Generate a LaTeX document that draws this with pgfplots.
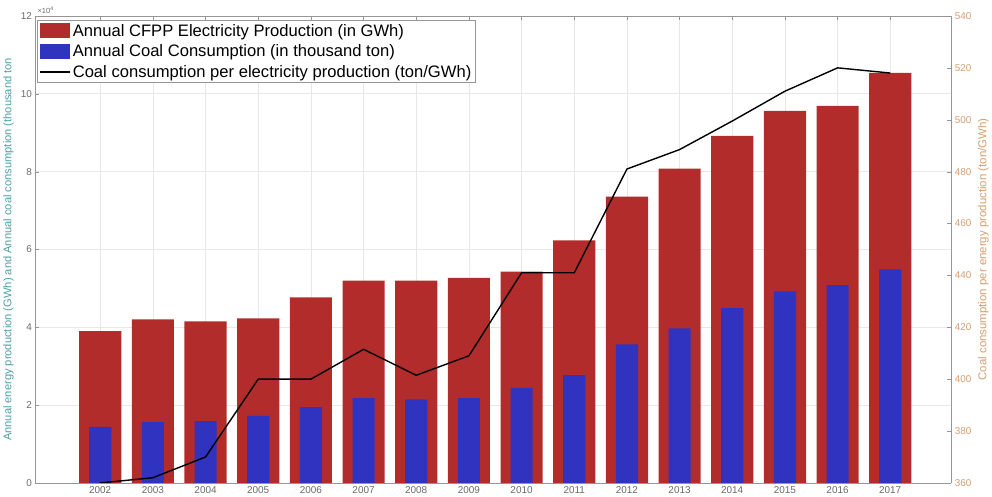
\documentclass[border=0pt]{standalone}
\usepackage{fontspec}
\setmainfont{Liberation Sans}
\usepackage{pgfplots}
\usepackage{pgfplotstable}
\pgfplotsset{compat=1.18}
\usetikzlibrary{calc}

\definecolor{barred}{RGB}{178,44,44}
\definecolor{barblue}{RGB}{47,51,191}
\definecolor{leftlab}{RGB}{74,160,165}
\definecolor{rightlab}{RGB}{214,158,112}
\definecolor{tickgray}{RGB}{105,105,105}
\definecolor{gridgray}{RGB}{232,232,232}
\definecolor{axgray}{RGB}{150,150,150}

% year, electricity (x10^4 GWh), coal (x10^4 thousand ton), ton/GWh
\pgfplotstableread{
year  elec   coal  ratio
2002  3.90   1.44  360
2003  4.20   1.56  362
2004  4.15   1.59  370
2005  4.23   1.72  400
2006  4.77   1.95  400
2007  5.20   2.18  411.5
2008  5.20   2.15  401.5
2009  5.27   2.18  409
2010  5.43   2.44  441
2011  6.23   2.77  441
2012  7.36   3.56  481
2013  8.08   3.97  488.5
2014  8.92   4.49  499.5
2015  9.56   4.92  511
2016  9.69   5.08  520
2017  10.54  5.49  518
}\datatable

\begin{document}
\begin{tikzpicture}
\begin{axis}[
  name=left,
  scale only axis, width=918bp, height=468bp,
  xmin=2000.77, xmax=2018.16, ymin=0, ymax=12,
  xtick={2002,...,2017}, ytick={0,2,...,12},
  axis x line=box, axis y line*=left,
  tick align=inside, major tick length=4bp,
  grid=major, grid style={gridgray, line width=0.6bp},
  axis line style={axgray, line width=0.8bp},
  tick style={axgray},
  /pgf/number format/assume math mode=true,
  x tick label style={/pgf/number format/1000 sep={}, font=\fontsize{10}{10}\selectfont, text=tickgray},
  y tick label style={font=\fontsize{10}{10}\selectfont, text=tickgray},
  every axis y label/.style={at={(axis description cs:-0.0294,0.5)}, anchor=center, rotate=90},
  ylabel={Annual energy production (GWh) and Annual coal consumption (thousand ton},
  ylabel style={font=\fontsize{11.2}{12}\selectfont, text=leftlab},
  legend style={at={(axis description cs:0.002,0.9915)}, anchor=north west,
    draw=axgray, fill=white, font=\fontsize{16.7}{18}\selectfont,
    inner sep=2bp, row sep=3bp, legend cell align=left},
]
\addplot[ybar, bar width=0.8, bar shift=0pt, fill=barred, draw=none,
  legend image code/.code={\fill[barred] (0bp,-7.5bp) rectangle (30bp,7.5bp);}]
  table[x=year, y=elec] {\datatable};
\addlegendentry{Annual CFPP Electricity Production (in GWh)}
\addplot[ybar, bar width=0.42, bar shift=0pt, fill=barblue, draw=none,
  legend image code/.code={\fill[barblue] (0bp,-7.5bp) rectangle (30bp,7.5bp);}]
  table[x=year, y=coal] {\datatable};
\addlegendentry{Annual Coal Consumption (in thousand ton)}
\addlegendimage{legend image code/.code={\draw[black, line width=1.4bp] (0bp,0bp) -- (30bp,0bp);}}
\addlegendentry{Coal consumption per electricity production (ton/GWh)}
\end{axis}

\begin{axis}[
  scale only axis, width=918bp, height=468bp,
  xmin=2000.77, xmax=2018.16, ymin=360, ymax=540,
  ytick={360,380,...,540},
  axis x line=none, axis y line*=right,
  tick align=inside, major tick length=4bp,
  axis line style={axgray, line width=0.8bp},
  tick style={axgray},
  /pgf/number format/assume math mode=true,
  y tick label style={font=\fontsize{10}{10}\selectfont, text=rightlab},
  every axis y label/.style={at={(axis description cs:1.0349,0.5)}, anchor=center, rotate=90},
  ylabel={Coal consumption per energy production (ton/GWh)},
  ylabel style={font=\fontsize{11.5}{12}\selectfont, text=rightlab},
]
\addplot[black, line width=1.4bp] table[x=year, y=ratio] {\datatable};
\end{axis}

\node[anchor=south west, inner sep=0pt, text=tickgray, font=\fontsize{7.5}{8}\selectfont]
  at ($(left.north west)+(2bp,2bp)$) {×10\textsuperscript{4}};
\path ($(left.south west)+(-35bp,-14bp)$) rectangle ($(left.north east)+(39bp,16bp)$);
\end{tikzpicture}
\end{document}
